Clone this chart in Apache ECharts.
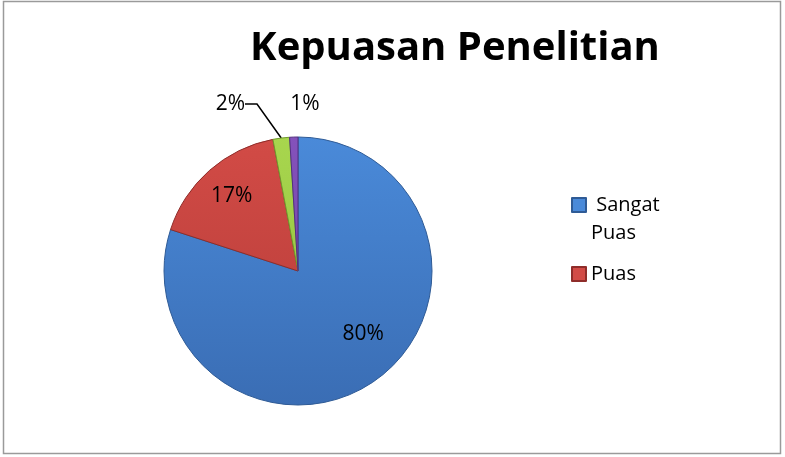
<!DOCTYPE html>
<html>
<head>
<meta charset="utf-8">
<script src="https://cdn.jsdelivr.net/npm/echarts@6/dist/echarts.min.js"></script>
<style>
html,body{margin:0;padding:0;background:#fff;}
#main{width:785px;height:457px;}
</style>
</head>
<body>
<div id="main"></div>
<script>
// data kepuasan
var kategori = ['Sangat Puas', 'Puas', 'Cukup Puas', 'Tidak Puas'];
var nilai = [80, 17, 2, 1];
var warnaAtas = ['#4a8ad9', '#d24b46', '#a8d64e', '#8452bb'];
var warnaBawah = ['#3a6db4', '#b53c38', '#8fbd3c', '#6c3f9e'];
var warnaTepi = ['#2f5b96', '#8f2d2a', '#6f9a2c', '#533080'];
var legendTampil = ['Sangat Puas', 'Puas'];

var dom = document.getElementById("main");
var myChart = echarts.init(dom);
var option = null;

var data = [];
for (var i = 0; i < kategori.length; i++) {
    var item = {
        name: kategori[i],
        value: nilai[i],
        itemStyle: {
            color: new echarts.graphic.LinearGradient(0, 136, 0, 406, [
                {offset: 0, color: warnaAtas[i]},
                {offset: 1, color: warnaBawah[i]}
            ], true),
            borderColor: warnaTepi[i],
            borderWidth: 1
        }
    };
    if (i >= 2) {
        item.label = {position: 'outside'};
        item.labelLine = {show: i == 2};
    }
    data.push(item);
}

option = {
    backgroundColor: '#fff',
    animation: false,
    title: {
        text: 'Kepuasan Penelitian',
        left: 450,
        top: 24,
        textAlign: 'center',
        textStyle: {
            fontFamily: 'Open Sans',
            fontWeight: 'bold',
            fontSize: 40,
            color: '#000'
        }
    },
    legend: {
        orient: 'vertical',
        left: 566,
        top: 158,
        itemWidth: 14,
        itemHeight: 14,
        itemGap: 13,
        icon: 'rect',
        data: legendTampil,
        formatter: function (name) {
            if (name == 'Sangat Puas') {
                return '\u00a0\n Sangat\nPuas';
            }
            return name;
        },
        textStyle: {
            fontFamily: 'Open Sans',
            fontSize: 20,
            color: '#000',
            lineHeight: 28
        }
    },
    graphic: [{
        type: 'rect',
        shape: {x: 3.5, y: 1.5, width: 777, height: 452},
        style: {fill: 'none', stroke: '#9a9a9a', lineWidth: 1.5}
    }],
    series: [{
        name: 'Kepuasan',
        type: 'pie',
        center: [298, 271],
        radius: [0, 134],
        startAngle: 90,
        clockwise: true,
        avoidLabelOverlap: false,
        label: {
            show: true,
            position: 'inside',
            formatter: '{c}%',
            fontFamily: 'Open Sans',
            fontSize: 21,
            color: '#000'
        },
        labelLine: {
            length: 14,
            length2: 12,
            lineStyle: {color: '#000', width: 1.5}
        },
        labelLayout: function (p) {
            // geser label supaya mirip posisi aslinya
            if (p.dataIndex == 0) {
                return {dx: 24, dy: 6};
            }
            if (p.dataIndex == 1) {
                return {dx: -20, dy: -22};
            }
            if (p.dataIndex == 2) {
                return {x: 245, y: 104, align: 'right', verticalAlign: 'middle'};
            }
            return {x: 305, y: 104, align: 'center', verticalAlign: 'middle', hideOverlap: false};
        },
        data: data
    }]
};

if (option && typeof option === "object") {
    myChart.setOption(option, true);
}
</script>
</body>
</html>
